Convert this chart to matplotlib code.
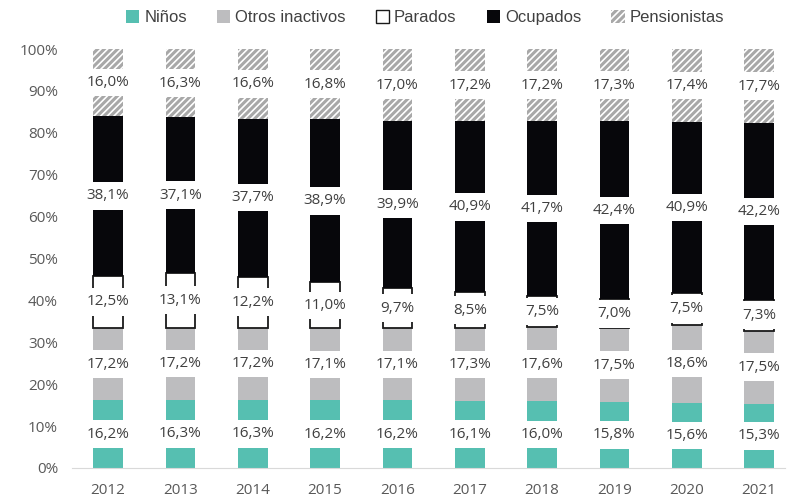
import matplotlib.pyplot as plt
from matplotlib.patches import Patch

years = ['2012', '2013', '2014', '2015', '2016', '2017', '2018', '2019', '2020', '2021']
ninos = [16.2, 16.3, 16.3, 16.2, 16.2, 16.1, 16.0, 15.8, 15.6, 15.3]
otros = [17.2, 17.2, 17.2, 17.1, 17.1, 17.3, 17.6, 17.5, 18.6, 17.5]
parados = [12.5, 13.1, 12.2, 11.0, 9.7, 8.5, 7.5, 7.0, 7.5, 7.3]
ocupados = [38.1, 37.1, 37.7, 38.9, 39.9, 40.9, 41.7, 42.4, 40.9, 42.2]
pensionistas = [16.0, 16.3, 16.6, 16.8, 17.0, 17.2, 17.2, 17.3, 17.4, 17.7]

plt.rcParams['font.family'] = ['Liberation Sans Narrow', 'Liberation Sans', 'DejaVu Sans']
plt.rcParams['hatch.linewidth'] = 2.2
num_font = ['Open Sans', 'DejaVu Sans']

fig = plt.figure(figsize=(7.87, 4.97), dpi=100)
ax = fig.add_axes([0.0915, 0.0584, 0.906, 0.843])

x = list(range(len(years)))
w = 0.41
series = [
    ('Niños', ninos, dict(color='#56bfb1', edgecolor='none')),
    ('Otros inactivos', otros, dict(color='#bdbdbf', edgecolor='none')),
    ('Parados', parados, dict(facecolor='white', edgecolor='#1a1a1a', linewidth=1.3)),
    ('Ocupados', ocupados, dict(color='#07070b', edgecolor='none')),
    ('Pensionistas', pensionistas, dict(facecolor='white', edgecolor='#a8a8a8', linewidth=0, hatch='/////')),
]

bottom = [0.0] * len(years)
for name, vals, style in series:
    ax.bar(x, vals, w, bottom=bottom, **style)
    for i, v in enumerate(vals):
        ax.text(x[i], bottom[i] + v / 2, f'{v:.1f}'.replace('.', ',') + '%',
                ha='center', va='center', fontsize=11, color='#404040', family=num_font,
                bbox=dict(facecolor='white', edgecolor='none', pad=4.5), zorder=5)
    bottom = [b + v for b, v in zip(bottom, vals)]

ax.set_ylim(0, 100)
ax.set_xlim(-0.5, 9.36)
ax.set_yticks(range(0, 101, 10))
ax.set_yticklabels([f'{t}%' for t in range(0, 101, 10)])
ax.set_xticks(x)
ax.set_xticklabels(years)
ax.tick_params(axis='both', length=0, labelsize=11, labelcolor='#595959')
ax.tick_params(axis='x', pad=11)
ax.tick_params(axis='y', pad=10)
for lab in ax.get_xticklabels() + ax.get_yticklabels():
    lab.set_family(num_font)
for s in ['top', 'right', 'left']:
    ax.spines[s].set_visible(False)
ax.spines['bottom'].set_color('#d9d9d9')

handles = [Patch(**{k: v for k, v in style.items() if k != 'linewidth'}, linewidth=1 if name == 'Parados' else 0, label=name)
           for name, vals, style in series]
fig.legend(handles=handles, loc='upper center', bbox_to_anchor=(0.54, 1.01), ncol=5, frameon=False,
           fontsize=12, handlelength=0.8, handleheight=0.8, handletextpad=0.3, columnspacing=1.8,
           labelcolor='#404040')

fig.savefig('out.png', dpi=100)
